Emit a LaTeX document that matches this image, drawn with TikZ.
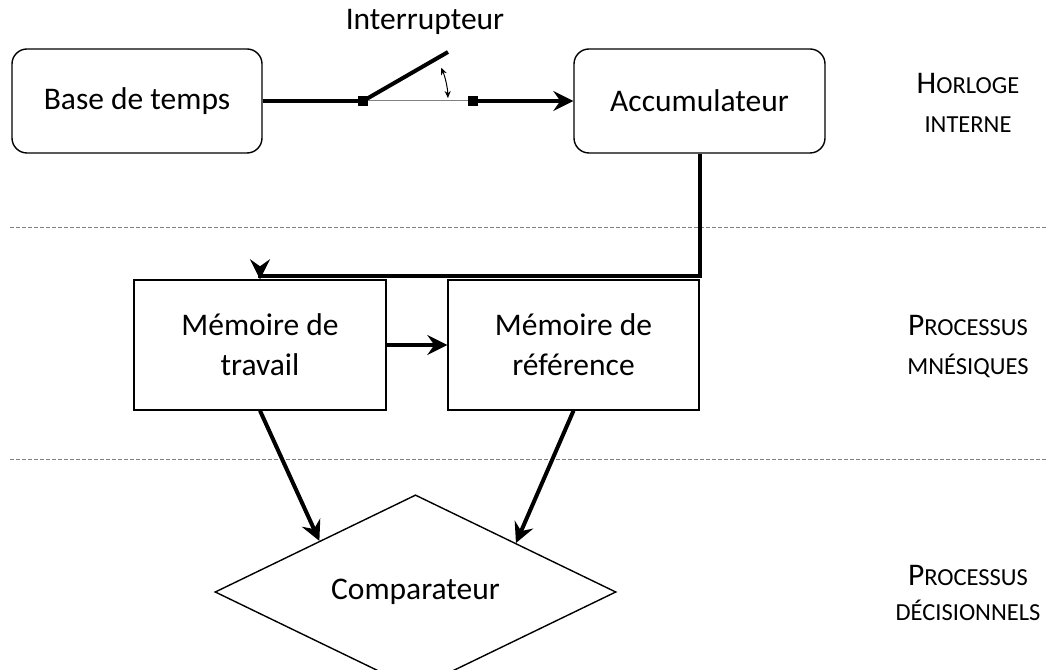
\documentclass[tikz,border=0pt]{standalone}
\usepackage{fontspec}
\setmainfont{Carlito}
\usetikzlibrary{arrows.meta,shapes.geometric}
\newcommand{\bigC}[1]{{\fontsize{31.5}{39}\selectfont #1}}
\newcommand{\smC}[1]{{\fontsize{24.5}{39}\selectfont #1}}
\begin{document}
\begin{tikzpicture}[x=1pt,y=1pt,
  box/.style={draw,line width=1.4pt,inner sep=0pt,align=center,font=\fontsize{31.5}{40}\selectfont},
  rbox/.style={box,rounded corners=15pt},
  arr/.style={line width=4pt,-{Stealth[length=20pt,width=20pt,inset=7pt]}},
  thickline/.style={line width=4pt},
  sep/.style={gray,line width=0.8pt,dash pattern=on 4pt off 2pt},
  lbl/.style={align=center,inner sep=0pt,font=\fontsize{24.5}{39}\selectfont},
  sq/.style={fill=black,minimum size=10pt,inner sep=0pt}]
\useasboundingbox (0,0) rectangle (1048,669);
% boxes
\node[rbox,minimum width=250pt,minimum height=104pt] (base) at (137,568) {Base de temps};
\node[rbox,minimum width=251pt,minimum height=104pt] (acc) at (699.5,568) {Accumulateur};
\node[box,minimum width=252pt,minimum height=130pt] (mt) at (260,324) {Mémoire de\\travail};
\node[box,minimum width=251pt,minimum height=130pt] (mr) at (573.5,324) {Mémoire de\\référence};
\node[draw,diamond,line width=1.4pt,minimum width=401pt,minimum height=157pt,inner sep=0pt,font=\fontsize{31.5}{40}\selectfont] (comp) at (415.5,77) {Comparateur};
% separators
\coordinate (d1a) at (10,442); \coordinate (d1b) at (1048,442);
\coordinate (d2a) at (10,210); \coordinate (d2b) at (1048,210);
\draw[sep] (d1a) -- (d1b);
\draw[sep] (d2a) -- (d2b);
% switch
\node[sq] (s1) at (363,568) {};
\node[sq] (s2) at (473,568) {};
\coordinate (lever) at (448,617);
\draw[thickline] (base.east) -- (s1.center);
\draw[gray,line width=1pt] (s1) -- (s2);
\draw[thickline] (s1.center) -- (lever);
\draw[line width=1pt,{Stealth[length=7pt,width=6pt]}-{Stealth[length=7pt,width=6pt]}] (s1.center) ++(2:85) arc (2:23:85);
\draw[arr] (s2.center) -- (acc.west);
\node[font=\fontsize{31.5}{36}\selectfont,inner sep=0pt] (intr) at (425,647) {Interrupteur};
% connectors
\draw[arr] (acc.south) -- ++(0,-122) -| (mt.north);
\draw[arr] (mt.east) -- (mr.west);
\draw[arr] (mt.south) -- (comp.152);
\draw[arr] (mr.south) -- (comp.26);
% right labels
\node[lbl] (l1) at (968,566) {\bigC{H}\smC{ORLOGE}\\\smC{INTERNE}};
\node[lbl] (l2) at (968,322) {\bigC{P}\smC{ROCESSUS}\\\smC{MNÉSIQUES}};
\node[lbl,font=\fontsize{24.5}{35}\selectfont] (l3) at (968,76) {\bigC{P}\smC{ROCESSUS}\\\smC{DÉCISIONNELS}};
\end{tikzpicture}
\end{document}
